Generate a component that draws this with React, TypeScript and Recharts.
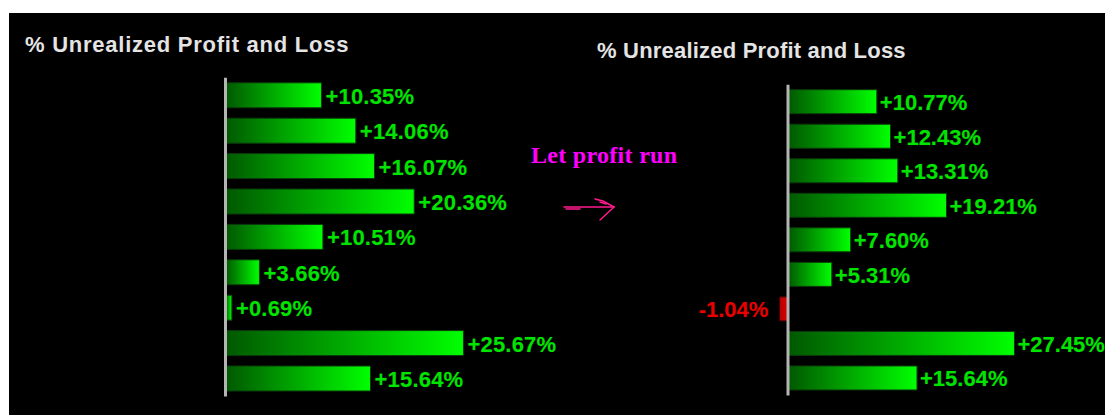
import React from "react";
import { BarChart, Bar, XAxis, YAxis, ReferenceLine, LabelList, Cell } from "recharts";

const categories = ["P1", "P2", "P3", "P4", "P5", "P6", "P7", "P8", "P9"];
const beforeValues = [10.35, 14.06, 16.07, 20.36, 10.51, 3.66, 0.69, 25.67, 15.64];
const afterValues = [10.77, 12.43, 13.31, 19.21, 7.6, 5.31, -1.04, 27.45, 15.64];
const titleText = "% Unrealized Profit and Loss";
const noteText = "Let profit run";

const beforeData = categories.map((name, i) => ({ name, value: beforeValues[i] }));
const afterData = categories.map((name, i) => ({ name, value: afterValues[i] }));

const FONT = "'Liberation Sans', Arial, Helvetica, sans-serif";

const makeLabel = (spacing: number, gap: number) => (props: any) => {
  const { x, y, width, height, value } = props;
  const left = Math.min(x, x + width);
  const right = Math.max(x, x + width);
  const cy = y + height / 2;
  const neg = value < 0;
  const txt = (neg ? "" : "+") + Number(value).toFixed(2) + "%";
  return (
    <text
      x={neg ? left - 11 : right + gap}
      y={cy + 1}
      textAnchor={neg ? "end" : "start"}
      dominantBaseline="central"
      fill={neg ? "#e80000" : "#00e400"}
      stroke={neg ? "#300000" : "#003000"}
      strokeWidth={0.6}
      paintOrder="stroke"
      style={{ fontFamily: FONT, fontWeight: "bold", fontSize: 22, letterSpacing: spacing }}
    >
      {txt}
    </text>
  );
};

const LeftLabel = makeLabel(0.2, 4);
const RightLabel = makeLabel(0, 3);

const Defs = () => (
  <defs>
    <linearGradient id="greenGrad" x1="0" y1="0" x2="1" y2="0">
      <stop offset="0%" stopColor="#005800" />
      <stop offset="100%" stopColor="#00ff00" />
    </linearGradient>
    <linearGradient id="redGrad" x1="0" y1="0" x2="1" y2="0">
      <stop offset="0%" stopColor="#b00000" />
      <stop offset="100%" stopColor="#e00000" />
    </linearGradient>
  </defs>
);

type PanelProps = {
  data: { name: string; value: number }[];
  left: number;
  width: number;
  margin: { top: number; right: number; bottom: number; left: number };
  domain: [number, number];
  barSize: number;
  Label: any;
};

const Panel = ({ data, left, width, margin, domain, barSize, Label }: PanelProps) => (
  <div style={{ position: "absolute", left, top: 0 }}>
    <BarChart width={width} height={415} data={data} layout="vertical" margin={margin}>
      <Defs />
      <XAxis type="number" domain={domain} hide allowDataOverflow />
      <YAxis type="category" dataKey="name" hide />
      <Bar dataKey="value" barSize={barSize} isAnimationActive={false} stroke="#0b3a0b" strokeWidth={1}>
        {data.map((d) => (
          <Cell
            key={d.name}
            fill={d.value < 0 ? "url(#redGrad)" : "url(#greenGrad)"}
            stroke={d.value < 0 ? "#400000" : "#0b3a0b"}
          />
        ))}
        <LabelList dataKey="value" content={<Label />} />
      </Bar>
      <ReferenceLine x={0} stroke="#b4b4b4" strokeWidth={3} />
    </BarChart>
  </div>
);

export default function App() {
  return (
    <div style={{ position: "fixed", left: 0, top: 0, width: 1105, height: 415, overflow: "hidden" }}>
      <div style={{ position: "absolute", left: 9, top: 13, right: 0, bottom: 0, background: "#000" }} />
      <div
        style={{
          position: "absolute",
          left: 25,
          top: 31,
          fontFamily: FONT,
          fontWeight: "bold",
          fontSize: 22,
          letterSpacing: 0.75,
          color: "#e4e4e4",
          whiteSpace: "nowrap",
          lineHeight: "28px",
        }}
      >
        {titleText}
      </div>
      <div
        style={{
          position: "absolute",
          left: 597,
          top: 37,
          fontFamily: FONT,
          fontWeight: "bold",
          fontSize: 22,
          letterSpacing: 0.2,
          color: "#e4e4e4",
          whiteSpace: "nowrap",
          lineHeight: "28px",
        }}
      >
        {titleText}
      </div>
      <div
        style={{
          position: "absolute",
          left: 531,
          top: 143,
          fontFamily: "'Liberation Serif', 'Times New Roman', serif",
          fontWeight: "bold",
          fontSize: 24,
          letterSpacing: 0.3,
          color: "#ff00ff",
          whiteSpace: "nowrap",
          lineHeight: "24px",
        }}
      >
        {noteText}
      </div>
      <svg style={{ position: "absolute", left: 0, top: 0 }} width={1105} height={415}>
        <g stroke="#ff1a8c" strokeWidth={1.5} fill="none" strokeLinecap="round">
          <path d="M564 207 L614 207" />
          <path d="M566 209 L580 209" />
          <path d="M595 199 L603 201 L614 207" />
          <path d="M600 202 L606 204" />
          <path d="M614 207 L600 220" />
        </g>
      </svg>
      <Panel
        data={beforeData}
        left={0}
        width={600}
        margin={{ top: 77.8, right: 96.4, bottom: 18.6, left: 225.5 }}
        domain={[0, 30]}
        barSize={25}
        Label={LeftLabel}
      />
      <Panel
        data={afterData}
        left={620}
        width={485}
        margin={{ top: 84.7, right: 69.5, bottom: 19.5, left: 151.5 }}
        domain={[-2, 30]}
        barSize={24}
        Label={RightLabel}
      />
    </div>
  );
}
